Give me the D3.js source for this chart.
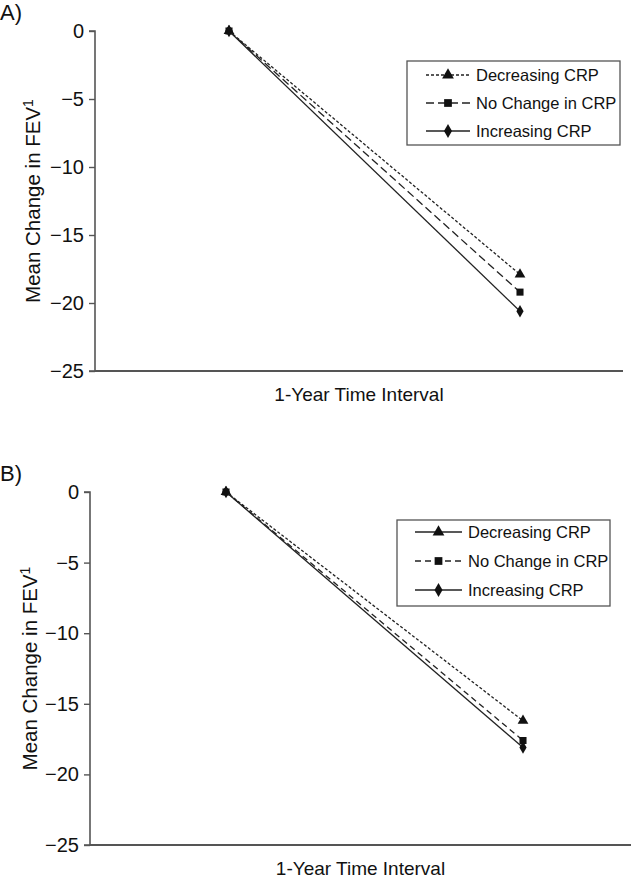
<!DOCTYPE html>
<html><head><meta charset="utf-8">
<script src="https://cdn.jsdelivr.net/npm/d3@7"></script>
<style>body{margin:0;background:#fff}svg{display:block;font-family:"Liberation Sans",Arial,sans-serif}</style>
</head><body>
<svg id="c" width="631" height="880"></svg>
<script>
const timepoints = ["Baseline", "1 Year"];
const seriesNames = ["Decreasing CRP", "No Change in CRP", "Increasing CRP"];
const panelA = [[0, -17.9], [0, -19.2], [0, -20.6]];
const panelB = [[0, -16.2], [0, -17.6], [0, -18.1]];
const yTicks = [0, -5, -10, -15, -20, -25];
const xTitle = "1-Year Time Interval";
const yTitle = "Mean Change in FEV";

const svg = d3.select("#c");
const shapes = [d3.symbolTriangle, d3.symbolSquare, d3.symbolDiamond];
const sizes = [50, 50, 45];
const legSizes = [60, 60, 55];

const panels = [
  {label:"A)", data:panelA, ax:95, axEnd:623, y0:31, y1:371, px:[229,520],
   chartDash:["3,2","8,4",null], legDash:["3,2","8,4",null],
   leg:{x:407,y:61,w:213,h:84,rows:[75,103,131],lx0:426,lx1:470,tx:476}, lab:[0,20], ytx:40},
  {label:"B)", data:panelB, ax:90, axEnd:631, y0:492, y1:845, px:[226,523],
   chartDash:["3,2","6,4",null], legDash:[null,"6,4",null],
   leg:{x:397,y:520,w:213,h:86,rows:[532,561,590],lx0:415,lx1:462,tx:468}, lab:[0,481], ytx:37}
];

panels.forEach(p=>{
  const g = svg.append("g");
  const x = d3.scalePoint().domain(timepoints).range(p.px);
  const y = d3.scaleLinear().domain([0,-25]).range([p.y0,p.y1]);
  g.append("text").attr("x",p.lab[0]).attr("y",p.lab[1]).attr("font-size",22).attr("fill","#111").text(p.label);
  const yAxis = g.append("g").attr("transform",`translate(${p.ax},0)`)
    .call(d3.axisLeft(y).tickValues(yTicks).tickSize(6).tickPadding(5).tickFormat(d=>d===0?"0":"\u2212"+Math.abs(d)));
  yAxis.select(".domain").attr("stroke","#555").attr("stroke-width",1.6).attr("d",`M-6,${p.y0}H0V${p.y1}H-6`);
  yAxis.selectAll(".tick line").attr("stroke","#555").attr("stroke-width",1.4);
  yAxis.selectAll(".tick text").attr("font-size",20).attr("fill","#111").attr("font-family","Liberation Sans, Arial, sans-serif");
  g.append("line").attr("x1",p.ax).attr("x2",p.axEnd).attr("y1",p.y1).attr("y2",p.y1).attr("stroke","#555").attr("stroke-width",2);
  g.append("text").attr("x",(p.ax+p.axEnd)/2).attr("y",p.y1+30).attr("text-anchor","middle").attr("font-size",19).attr("fill","#111").text(xTitle);
  const yt = g.append("text").attr("transform",`translate(${p.ytx},${(p.y0+p.y1)/2}) rotate(-90)`).attr("text-anchor","middle").attr("font-size",20.5).attr("fill","#111");
  yt.append("tspan").text(yTitle);
  yt.append("tspan").attr("font-size",14).attr("dy",-7).text("1");
  const line = d3.line().x((d,i)=>x(timepoints[i])).y(d=>y(d));
  p.data.forEach((s,k)=>{
    g.append("path").attr("d",line(s)).attr("fill","none").attr("stroke","#222").attr("stroke-width",1.3)
      .attr("stroke-dasharray",p.chartDash[k]);
    s.forEach((v,i)=>{
      g.append("path").attr("d",d3.symbol(shapes[k],sizes[k])()).attr("fill","#111")
        .attr("transform",`translate(${x(timepoints[i])},${y(v)})`);
    });
  });
  const L = p.leg;
  g.append("rect").attr("x",L.x).attr("y",L.y).attr("width",L.w).attr("height",L.h).attr("fill","#fff").attr("stroke","#555").attr("stroke-width",1.3);
  seriesNames.forEach((n,k)=>{
    const ry = L.rows[k];
    g.append("line").attr("x1",L.lx0).attr("x2",L.lx1).attr("y1",ry).attr("y2",ry).attr("stroke","#222").attr("stroke-width",1.5).attr("stroke-dasharray",p.legDash[k]);
    g.append("path").attr("d",d3.symbol(shapes[k],legSizes[k])()).attr("fill","#111").attr("transform",`translate(${(L.lx0+L.lx1)/2},${ry})`);
    g.append("text").attr("x",L.tx).attr("y",ry+6).attr("font-size",16.5).attr("fill","#111").text(n);
  });
});
</script>
</body></html>
